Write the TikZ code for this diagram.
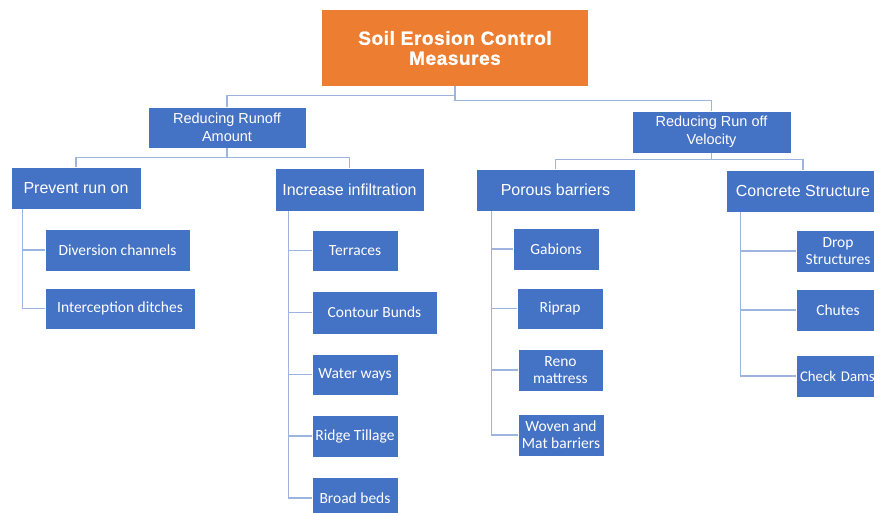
\documentclass[tikz,border=0pt]{standalone}
\usepackage{fontspec}
\newfontfamily\arialf{Liberation Sans}
\newfontfamily\titlef[LetterSpace=3,BoldFeatures={FakeBold=1.2}]{Liberation Sans}
\newfontfamily\calf{Carlito}
\definecolor{obox}{HTML}{ED7D31}
\definecolor{bbox}{HTML}{4472C4}
\definecolor{lnc}{HTML}{9DB4DE}
\begin{document}
\begin{tikzpicture}[x=1pt,y=-1pt,
  bx/.style={fill=bbox,draw=white,line width=0.6pt,text=white,inner sep=1pt,align=center},
  lvA/.style={bx,font=\arialf\fontsize{14.5}{18}\selectfont},
  lvB/.style={bx,font=\arialf\fontsize{16}{19}\selectfont},
  lvC/.style={bx,font=\calf\fontsize{15.5}{17}\selectfont},
  conn/.style={draw=lnc,line width=1.2pt}]
\useasboundingbox (0,0) rectangle (874,513);
\clip (0,0) rectangle (874,513);
\fill[white] (0,0) rectangle (874,513);
% title
\node[fill=obox,text=white,minimum width=266pt,minimum height=76pt,align=center,
  font=\titlef\bfseries\fontsize{19}{20}\selectfont] (title) at (455,48) {Soil Erosion Control\\Measures};
% level 1
\node[lvA,minimum width=158pt,minimum height=41pt] (rra) at (227,127.5) {Reducing Runoff\\Amount};
\node[lvA,minimum width=159pt,minimum height=42pt] (rrv) at (711.5,132) {Reducing Run off\\Velocity};
% level 2
\node[lvB,minimum width=130pt,minimum height=42pt] (pro) at (76,188) {Prevent run on};
\node[lvB,minimum width=149pt,minimum height=43pt] (inf) at (349.5,189.5) {Increase infiltration};
\node[lvB,minimum width=159pt,minimum height=42pt] (por) at (555.5,190) {Porous barriers};
\node[lvB,minimum width=154pt,minimum height=42pt] (con) at (803,191) {Concrete Structure};
% level 3
\node[lvC,minimum width=145pt,minimum height=42pt] (div) at (117.5,250) {Diversion channels};
\node[lvC,minimum width=150pt,minimum height=41pt] (int) at (120,308.5) {Interception ditches};
\node[lvC,minimum width=86pt,minimum height=41pt] (ter) at (355,250.5) {Terraces};
\node[lvC,minimum width=125pt,minimum height=43pt] (cb) at (374.5,312.5) {Contour Bunds};
\node[lvC,minimum width=86pt,minimum height=41pt] (ww) at (355,374.5) {Water ways};
\node[lvC,minimum width=86pt,minimum height=42pt] (rt) at (355,436) {Ridge Tillage};
\node[lvC,minimum width=86pt,minimum height=42pt] (bb) at (355,498) {Broad beds};
\node[lvC,minimum width=86pt,minimum height=42pt] (gab) at (556,249) {Gabions};
\node[lvC,minimum width=86pt,minimum height=41pt] (rip) at (560,308.5) {Riprap};
\node[lvC,minimum width=85pt,minimum height=42pt] (reno) at (560.5,370) {Reno\\mattress};
\node[lvC,minimum width=86pt,minimum height=42pt] (wov) at (561,435) {Woven and\\Mat barriers};
\node[lvC,minimum width=84pt,minimum height=42pt] (drop) at (838,251) {Drop\\Structures};
\node[lvC,minimum width=84pt,minimum height=42pt] (chu) at (838,310) {Chutes};
\node[lvC,minimum width=84pt,minimum height=42pt,font=\calf\fontsize{14.8}{17}\selectfont,
  text width=76pt,align=left,inner sep=1pt] (chk) at (838,376) {Check Dams};
% connectors
\draw[conn] (title.south) -- ++(0,9) -| (rra.north);
\draw[conn] (title.south) -- ++(0,14) -| (rrv.north);
\draw[conn] (rra.south) -- ++(0,9) -| (pro.north);
\draw[conn] (rra.south) -- ++(0,9) -| (inf.north);
\draw[conn] (rrv.south) -- ++(0,6) -| (por.north);
\draw[conn] (rrv.south) -- ++(0,6) -| (con.north);
\draw[conn] ([xshift=12pt]pro.south west) |- (div.west);
\draw[conn] ([xshift=12pt]pro.south west) |- (int.west);
\foreach \c in {ter,cb,ww,rt,bb}{\draw[conn] ([xshift=14pt]inf.south west) |- (\c.west);}
\foreach \c in {gab,rip,reno,wov}{\draw[conn] ([xshift=16pt]por.south west) |- (\c.west);}
\foreach \c in {drop,chu,chk}{\draw[conn] ([xshift=15pt]con.south west) |- (\c.west);}
\end{tikzpicture}
\end{document}
